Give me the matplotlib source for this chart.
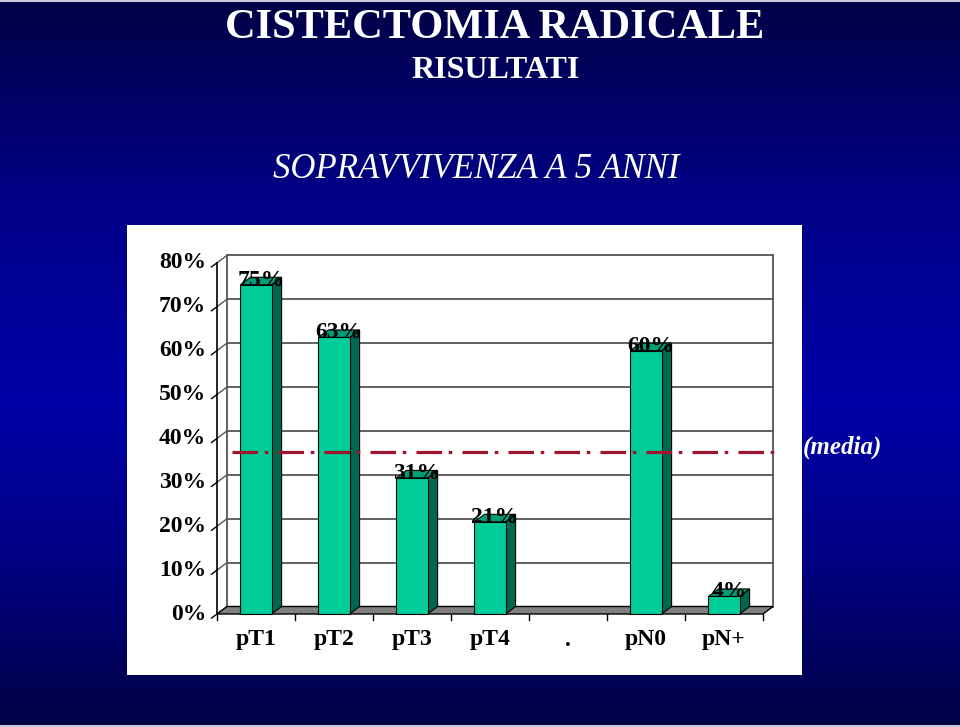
import matplotlib
matplotlib.use("Agg")
import matplotlib.pyplot as plt
import numpy as np
from matplotlib.patches import Rectangle, Polygon

plt.rcParams['font.family'] = ['Liberation Serif', 'DejaVu Serif']

# data
categories = ["pT1", "pT2", "pT3", "pT4", ".", "pN0", "pN+"]
survival = [75, 63, 31, 21, None, 60, 4]
value_labels = ["75%", "63%", "31%", "21%", "", "60%", "4%"]
y_ticks = [0, 10, 20, 30, 40, 50, 60, 70, 80]
y_tick_labels = ["0%", "10%", "20%", "30%", "40%", "50%", "60%", "70%", "80%"]
media = 37

# colours
face_col = "#00CC99"
side_col = "#00684F"
top_col = "#009E78"
grid_col = "#555555"
media_col = "#A0142E"

W, H = 960, 727
fig = plt.figure(figsize=(W / 100, H / 100), dpi=100)

# background gradient (pixel coordinates)
bg = fig.add_axes([0, 0, 1, 1])
bg.set_xlim(0, W)
bg.set_ylim(H, 0)
bg.axis("off")
stops_y = [0, 200, 400, 560, 727]
stops_b = [70, 135, 168, 130, 68]
grad = np.interp(np.arange(H), stops_y, stops_b) / 255.0
img = np.zeros((H, 1, 3))
img[:, 0, 2] = grad
bg.imshow(img, extent=[0, W, H, 0], aspect="auto", zorder=0)
bg.axhline(0.5, color="#C8C8D8", lw=1.5, zorder=1)
bg.axhline(726, color="#C8C8D8", lw=1.5, zorder=1)
bg.add_patch(Rectangle((127, 225), 675, 450, facecolor="white", edgecolor="none", zorder=1))

bg.text(495, 28, "CISTECTOMIA RADICALE", color="white", fontsize=30.5,
        fontweight="bold", ha="center", va="center")
bg.text(496, 70, "RISULTATI", color="white", fontsize=23,
        fontweight="bold", ha="center", va="center")
bg.text(476, 170, "SOPRAVVIVENZA A 5 ANNI", color="white", fontsize=25,
        style="italic", ha="center", va="center")

# chart axes: x in category units, y in percent
px_unit, py_unit = 78.0, 4.39
x0_px, y0_px = 217.0, 614.0
xlim = (-0.3, 7.3)
ylim = (-3, 85)
left = x0_px + xlim[0] * px_unit
right = x0_px + xlim[1] * px_unit
bottom = y0_px - ylim[0] * py_unit
top = y0_px - ylim[1] * py_unit
ax = fig.add_axes([left / W, (H - bottom) / H, (right - left) / W, (bottom - top) / H])
ax.set_xlim(*xlim)
ax.set_ylim(*ylim)
ax.axis("off")
ax.patch.set_alpha(0)

n = len(categories)
DX = 10 / px_unit
DY = 7.5 / py_unit
ymax = y_ticks[-1]

# floor
ax.add_patch(Polygon([(0, 0), (n, 0), (n + DX, DY), (DX, DY)], closed=True,
                     facecolor="#808080", edgecolor="black", lw=1, zorder=2))
# back wall gridlines and side wall diagonals
for g, lab in zip(y_ticks, y_tick_labels):
    if g > 0:
        ax.plot([DX, n + DX], [g + DY, g + DY], color=grid_col, lw=1.3, zorder=1)
    ax.plot([0, DX], [g, g + DY], color=grid_col, lw=1.0, zorder=1)
    ax.plot([0, -DX * 0.55], [g, g - DY * 0.55], color="black", lw=1.0, zorder=3,
            clip_on=False)
    ax.text(-11 / px_unit, g, lab, ha="right", va="center",
            fontsize=17, fontweight="bold", color="black", clip_on=False)
ax.plot([DX, DX], [DY, ymax + DY], color=grid_col, lw=1.3, zorder=1)
ax.plot([n + DX, n + DX], [DY, ymax + DY], color=grid_col, lw=1.3, zorder=1)
ax.plot([0, 0], [0, ymax], color="black", lw=1.2, zorder=3)

# x ticks and category labels
for i in range(n + 1):
    ax.plot([i, i], [0, -6 / py_unit], color="black", lw=1.0, zorder=3, clip_on=False)
for i, c in enumerate(categories):
    ax.text(i + 0.5, -26 / py_unit, c, ha="center", va="center", fontsize=17,
            fontweight="bold", color="black", clip_on=False)

# 3D bars
bw = 0.4
for i, v in enumerate(survival):
    if v is None:
        continue
    xl = i + 0.5 - bw / 2
    xr = xl + bw
    ax.add_patch(Polygon([(xr, 0), (xr + DX, DY), (xr + DX, v + DY), (xr, v)],
                         closed=True, facecolor=side_col, edgecolor="black", lw=0.8, zorder=4))
    ax.add_patch(Polygon([(xl, v), (xr, v), (xr + DX, v + DY), (xl + DX, v + DY)],
                         closed=True, facecolor=top_col, edgecolor="black", lw=0.8, zorder=4))
    ax.add_patch(Rectangle((xl, 0), bw, v, facecolor=face_col, edgecolor="black",
                           lw=0.8, zorder=5))

# media line
ax.plot([0.19, 7.26], [media, media], color=media_col, lw=2.3,
        linestyle=(0, (8.0, 2.1, 1.1, 3.2)), zorder=6, clip_on=False)
ax.text(7.51, media + 0.9, "(media)", color="white", fontsize=18, style="italic",
        fontweight="bold", ha="left", va="center", clip_on=False)

# value labels
for i, v in enumerate(survival):
    if v is None:
        continue
    ax.text(i + 0.5 + DX / 2, v + DY * 0.6, value_labels[i], ha="center", va="center",
            fontsize=17, fontweight="bold", color="black", zorder=7)

fig.savefig("out.png", dpi=100)
